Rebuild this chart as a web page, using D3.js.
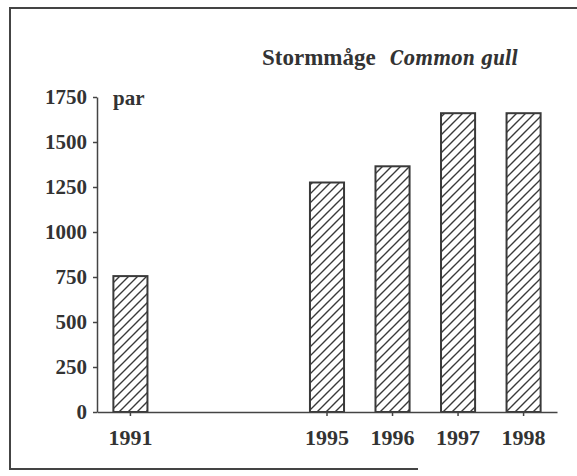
<!DOCTYPE html>
<html>
<head>
<meta charset="utf-8">
<script src="https://cdn.jsdelivr.net/npm/d3@7"></script>
<style>
  body { margin: 0; background: #fff; }
  svg text { font-family: "Liberation Serif", "DejaVu Serif", serif; font-weight: bold; fill: #333; }
  svg text.it { font-family: "DejaVu Serif", serif; font-style: italic; font-weight: bold; }
</style>
</head>
<body>
<script>
// Stormmåge / Common gull, antal par
var years = ["1991", "1995", "1996", "1997", "1998"];
var pairs = [755, 1275, 1365, 1660, 1660];
var slots = ["1991", "gap1", "gap2", "1995", "1996", "1997", "1998"];  // två tomma platser mellan 1991 och 1995
var yTicks = [0, 250, 500, 750, 1000, 1250, 1500, 1750];

var data = years.map(function (d, i) { return { year: d, value: pairs[i] }; });

var svg = d3.select("body").append("svg")
    .attr("width", 577)
    .attr("height", 476);

// streckmönster
var defs = svg.append("defs");
defs.append("pattern")
    .attr("id", "hatch")
    .attr("patternUnits", "userSpaceOnUse")
    .attr("width", 9)
    .attr("height", 9)
    .append("path")
    .attr("d", "M-1,1 l2,-2 M0,9 l9,-9 M8,10 l2,-2")
    .attr("stroke", "#3a3a3a")
    .attr("stroke-width", 1.4);

// ram
svg.append("path")
    .attr("d", "M577,8 L10,8 L10,469 L418,469")
    .attr("fill", "none")
    .attr("stroke", "#444")
    .attr("stroke-width", 2);

var x = d3.scaleBand()
    .domain(slots)
    .range([97, 557])
    .paddingInner(0.48)
    .paddingOuter(0.25);

var y = d3.scaleLinear()
    .domain([0, 1750])
    .range([412, 97]);

// y-axel
var gy = svg.append("g")
    .attr("transform", "translate(97,0)")
    .call(d3.axisLeft(y).tickValues(yTicks).tickSize(4).tickSizeOuter(0).tickPadding(6).tickFormat(d3.format("d")));
gy.attr("font-family", null);
gy.selectAll("text").style("font-size", "21px").attr("fill", "#333");
gy.selectAll("line, path").attr("stroke", "#444").attr("stroke-width", 1.5);

// staplar
svg.append("g").selectAll("rect")
    .data(data)
    .enter()
    .append("rect")
    .attr("x", function (d) { return x(d.year); })
    .attr("y", function (d) { return y(d.value); })
    .attr("width", x.bandwidth())
    .attr("height", function (d) { return y(0) - y(d.value); })
    .attr("fill", "url(#hatch)")
    .attr("stroke", "#3a3a3a")
    .attr("stroke-width", 2);

// x-axel
var gx = svg.append("g")
    .attr("transform", "translate(0,412)")
    .call(d3.axisBottom(x).tickValues(years).tickSize(4).tickSizeOuter(0).tickPadding(13));
gx.attr("font-family", null);
gx.selectAll("text").style("font-size", "22px").attr("fill", "#333");
gx.selectAll("line, path").attr("stroke", "#444").attr("stroke-width", 1.5);

// enhet
svg.append("text")
    .attr("x", 113)
    .attr("y", 105)
    .style("font-size", "21px")
    .text("par");

// rubrik
svg.append("text")
    .attr("x", 262)
    .attr("y", 65)
    .style("font-size", "23px")
    .text("Stormmåge");
svg.append("text")
    .attr("class", "it")
    .attr("x", 390)
    .attr("y", 65)
    .attr("textLength", 128)
    .attr("lengthAdjust", "spacingAndGlyphs")
    .style("font-size", "20px")
    .text("Common gull");
</script>
</body>
</html>
